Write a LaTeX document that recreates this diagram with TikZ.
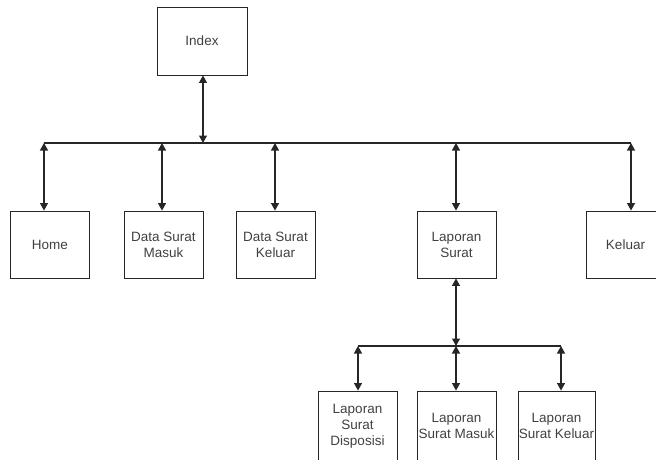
\documentclass[tikz,border=0pt]{standalone}
\usepackage{fontspec}
\setmainfont{Liberation Sans}
\usetikzlibrary{arrows.meta}
\begin{document}
\begin{tikzpicture}[x=1pt,y=-1pt,
  box/.style={draw=black!85, line width=0.9pt, minimum width=79pt, minimum height=67pt,
    align=center, font=\fontsize{13.5}{16}\selectfont, text=black!75, inner sep=0pt},
  link/.style={line width=1.2pt, draw=black!85,
    {Triangle[length=7.5pt,width=8pt]}-{Triangle[length=7.5pt,width=8pt]}},
  bus/.style={line width=1.2pt, draw=black!85}]
\useasboundingbox (0,0) rectangle (656,459);
\clip (0,0) rectangle (656,459);
% nodes
\node[box, minimum width=90pt, minimum height=68pt] (idx) at (202,41) {Index};
\node[box] (home) at (50,244.5) {Home};
\node[box] (dsm) at (163.5,244.5) {Data Surat\\Masuk};
\node[box] (dsk) at (275.5,244.5) {Data Surat\\Keluar};
\node[box] (lap) at (456.5,244.5) {Laporan\\Surat};
\node[box] (kel) at (625.5,244.5) {Keluar};
\node[box, minimum height=70pt] (lsd) at (357.5,426) {Laporan\\Surat\\Disposisi};
\node[box, minimum height=70pt] (lsm) at (456.5,426) {Laporan\\Surat Masuk};
\node[box, minimum height=70pt, minimum width=77pt] (lsk) at (556.5,426) {Laporan\\Surat Keluar};
% bus points
\coordinate (b0) at (203,143);
\coordinate (bL) at (44,143);
\coordinate (bR) at (631,143);
\coordinate (b1) at (162,143);
\coordinate (b2) at (275,143);
\coordinate (b3) at (456,143);
\coordinate (c0) at (456,346);
\coordinate (cL) at (358,346);
\coordinate (cR) at (561,346);
% buses
\draw[bus] (bL) -- (bR);
\draw[bus] (cL) -- (cR);
% links
\draw[link] (b0 |- idx.south) -- (b0);
\draw[link] (bL) -- (bL |- home.north);
\draw[link] (b1) -- (b1 |- dsm.north);
\draw[link] (b2) -- (b2 |- dsk.north);
\draw[link] (b3) -- (b3 |- lap.north);
\draw[link] (bR) -- (bR |- kel.north);
\draw[link] (c0 |- lap.south) -- (c0);
\draw[link] (cL) -- (cL |- lsd.north);
\draw[link] (c0) -- (c0 |- lsm.north);
\draw[link] (cR) -- (cR |- lsk.north);
\end{tikzpicture}
\end{document}
